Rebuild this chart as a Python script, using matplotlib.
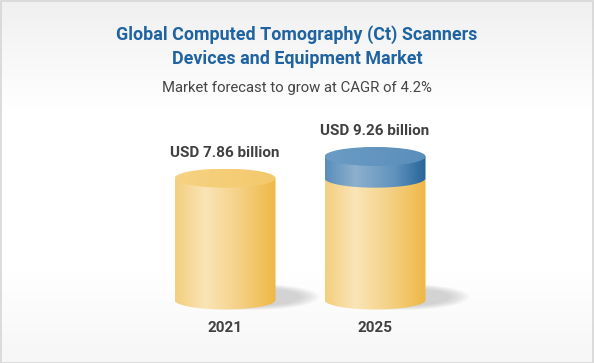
import numpy as np
import matplotlib
matplotlib.use("Agg")
import matplotlib.pyplot as plt
from matplotlib.colors import LinearSegmentedColormap, to_rgb
from matplotlib.path import Path
from matplotlib.patches import PathPatch, Rectangle, Ellipse

# ---- data ----
years = ["2021", "2025"]
values = [7.86, 9.26]
value_labels = ["USD 7.86 billion", "USD 9.26 billion"]
base_value = values[0]  # growth segment starts at the 2021 value
title_lines = ["Global Computed Tomography (Ct) Scanners",
               "Devices and Equipment Market"]
subtitle = "Market forecast to grow at CAGR of 4.2%"

W, H = 594, 363
DPI = 100
fig = plt.figure(figsize=(W / DPI, H / DPI), dpi=DPI)
plt.rcParams['font.family'] = ['Roboto', 'DejaVu Sans']

# ---- background ----
bg = fig.add_axes([0, 0, 1, 1], zorder=0)
bg.set_axis_off()
def lerp(a, b, t):
    return np.array(to_rgb(a)) * (1 - t) + np.array(to_rgb(b)) * t
col = np.zeros((H, 1, 3))
for i in range(H):
    if i < 110:
        col[i, 0] = lerp("#f0f0f0", "#ffffff", i / 110)
    elif i < 270:
        col[i, 0] = to_rgb("#ffffff")
    else:
        col[i, 0] = lerp("#ffffff", "#f6f6f6", (i - 270) / 93)
bg.imshow(col, aspect='auto', extent=[0, 1, 0, 1], origin='upper')
bg.set_xlim(0, 1); bg.set_ylim(0, 1)
bg.add_patch(Rectangle((0.001, 0.001), 0.998, 0.997, fill=False,
                       edgecolor="#d6d6d6", lw=1.2, transform=bg.transAxes))

# ---- main axes ----
ax = fig.add_axes([0, 0, 1, 1], zorder=1)
ax.patch.set_alpha(0)
ax.set_axis_off()
px_x = 150.0   # pixels per category unit
px_y = 15.5    # pixels per value unit
cx0 = 225.0    # pixel of first category
y0px = 300.0   # pixel (from top) of value 0
ax.set_xlim(-cx0 / px_x, (W - cx0) / px_x)
ax.set_ylim(-(H - y0px) / px_y, y0px / px_y)

hw = 50.5 / px_x        # half width in data units
b = 9.5 / px_y          # ellipse semi-minor in data units

yellow_cmap = LinearSegmentedColormap.from_list(
    "yel", [(0, "#f3cf7e"), (0.3, "#fae5b7"), (0.65, "#f4d084"), (1, "#efb845")])
blue_cmap = LinearSegmentedColormap.from_list(
    "blu", [(0, "#5a8dba"), (0.3, "#8db0cd"), (0.7, "#5f92bd"), (1, "#266499")])
yellow_top = LinearSegmentedColormap.from_list("yt", ["#f6d283", "#f4c96c"])
blue_top = LinearSegmentedColormap.from_list("bt", ["#6a9cc5", "#5b8eba"])

grad = np.linspace(0, 1, 256).reshape(1, -1)

def body(x, ylo, yhi, cmap, z):
    t = np.linspace(np.pi, 2 * np.pi, 80)
    verts = [(x - hw, yhi), (x - hw, ylo)]
    verts += list(zip(x + hw * np.cos(t), ylo + b * np.sin(t)))
    verts += [(x + hw, yhi), (x - hw, yhi)]
    path = Path(verts, closed=True)
    patch = PathPatch(path, facecolor='none', edgecolor='none')
    ax.add_patch(patch)
    im = ax.imshow(grad, cmap=cmap, aspect='auto',
                   extent=[x - hw, x + hw, ylo - b, yhi], zorder=z)
    im.set_clip_path(patch)

def top(x, y, cmap, z):
    e = Ellipse((x, y), 2 * hw, 2 * b, facecolor='none', edgecolor='none')
    ax.add_patch(e)
    im = ax.imshow(grad, cmap=cmap, aspect='auto',
                   extent=[x - hw, x + hw, y - b, y + b], zorder=z)
    im.set_clip_path(e)

def shadow(x):
    for k in range(12):
        ax.add_patch(Ellipse((x + 0.16, 0.2), 2 * hw * (1.4 - 0.035 * k),
                             2 * b * (1.4 - 0.04 * k),
                             facecolor="#8a8a8a", edgecolor='none',
                             alpha=0.03, zorder=1.5))

for i, (yr, v, lab) in enumerate(zip(years, values, value_labels)):
    x = i
    shadow(x)
    if v > base_value:
        body(x, 0, base_value, yellow_cmap, 2)
        body(x, base_value, v, blue_cmap, 3)
        top(x, v, blue_top, 4)
    else:
        body(x, 0, v, yellow_cmap, 2)
        top(x, v, yellow_top, 4)
    ax.text(x, v + 25 / px_y, lab, ha='center', va='center',
            fontsize=11, fontweight='bold', color="#404040", zorder=5)
    ax.text(x, -28 / px_y, yr, ha='center', va='center',
            fontsize=11, fontweight='bold', color="#404040", zorder=5)

for j, line in enumerate(title_lines):
    fig.text(0.5, 1 - (35 + 24 * j) / H, line, ha='center', va='center',
             fontsize=12.9, fontweight='bold', color="#1f63a0", zorder=5)
fig.text(0.5, 1 - 88 / H, subtitle, ha='center', va='center', fontsize=10.7,
         color="#454545", zorder=5)

fig.savefig("out.png", dpi=DPI)
